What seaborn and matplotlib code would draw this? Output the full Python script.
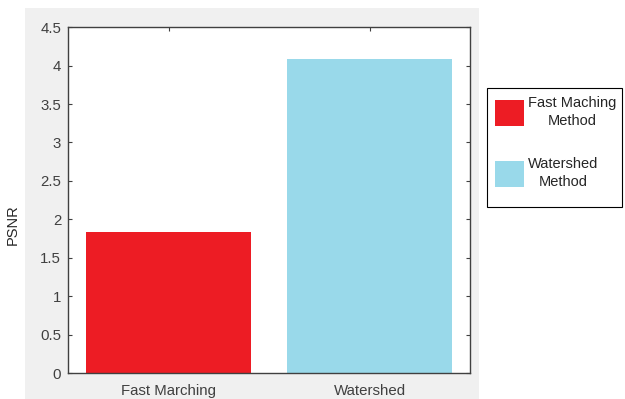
import matplotlib
matplotlib.use("Agg")
import matplotlib.pyplot as plt
from matplotlib.patches import Rectangle, Patch
import seaborn as sns

methods = ["Fast Marching", "Watershed"]
psnr = [1.83, 4.08]
bar_colors = ["#ED1C24", "#99D9EA"]
legend_labels = ["Fast Maching\nMethod", "Watershed\nMethod"]
yticks = [0, 0.5, 1, 1.5, 2, 2.5, 3, 3.5, 4, 4.5]

sns.set_style("ticks")
plt.rcParams['font.family'] = ['Liberation Sans', 'DejaVu Sans']

fig = plt.figure(figsize=(6.25, 3.99), dpi=100, facecolor="white")
# grey figure area like a MATLAB window
fig.patches.append(Rectangle((0.04, 0.0), 0.726, 0.98, transform=fig.transFigure,
                             facecolor="#F0F0F0", edgecolor="none", zorder=-10))
# legend frame drawn by hand (it sits outside the grey window)
fig.patches.append(Rectangle((0.779, 0.481), 0.216, 0.298, transform=fig.transFigure,
                             facecolor="white", edgecolor="black", linewidth=0.8,
                             zorder=-5))

ax = fig.add_axes([0.109, 0.065, 0.643, 0.867])
ax.set_zorder(1)
sns.barplot(x=methods, y=psnr, hue=methods, palette=bar_colors, width=0.82,
            linewidth=0, saturation=1, legend=False, ax=ax)
ax.set_xlim(-0.5, 1.5)
ax.set_ylim(0, 4.5)
ax.set_yticks(yticks)
ax.set_yticklabels([f"{t:g}" for t in yticks])
ax.set_ylabel("PSNR", fontsize=10.5, color="#262626")
ax.yaxis.set_label_coords(-0.12, 0.43)
ax.set_xlabel("")
ax.set_facecolor("white")
for s in ax.spines.values():
    s.set_visible(True)
    s.set_color("#404040")
    s.set_linewidth(1.0)
ax.tick_params(direction="in", length=3, width=0.8, color="#404040",
               top=True, right=True, labelsize=10.8, labelcolor="#404040", pad=5)
ax.tick_params(axis="x", pad=8)

handles = [Patch(facecolor=c, edgecolor="none") for c in bar_colors]
leg = fig.legend(handles, legend_labels, loc="upper left",
                 bbox_to_anchor=(0.779, 0.779), borderaxespad=0, frameon=False,
                 fontsize=10.5, handlelength=2.0, handleheight=2.3,
                 labelspacing=2.0, borderpad=0.55, handletextpad=0.3)
for t in leg.get_texts():
    t.set_multialignment("center")
    t.set_linespacing(1.35)
    t.set_color("#262626")

fig.savefig("out.png", dpi=100, facecolor="white")
